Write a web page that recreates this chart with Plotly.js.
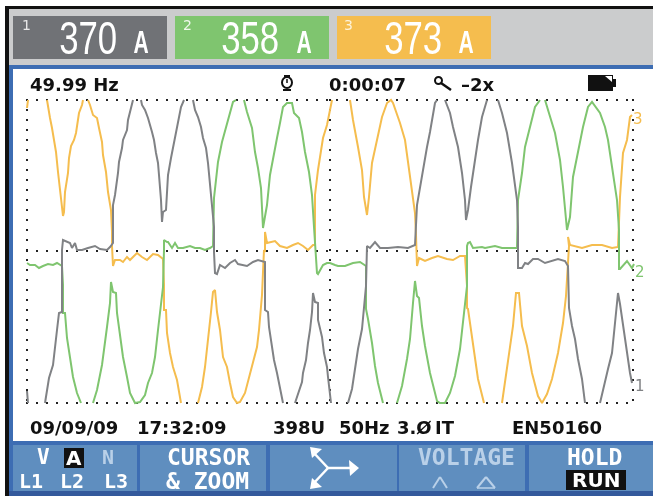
<!DOCTYPE html>
<html><head><meta charset="utf-8">
<script src="https://cdn.plot.ly/plotly-3.0.1.min.js"></script>
<style>html,body{margin:0;padding:0;background:#fff;overflow:hidden}#g{width:653px;height:496px;filter:blur(0.5px)}</style>
</head><body><div id="g"></div>
<script>
// Trace samples in screen counts: sample index and signed level about the centre line.
var tL3=[0,1,null,20,21,23,25,27,29,31,33,35,36,37,38,41,42,44,47,49,51,52,55,56,null,61,63,66,70,72,75,76,79,81,84,85,85,86,88,93,96,100,103,110,115,120,126,131,136,137,137,139,140,143,146,150,153,154,null,171,175,178,180,182,184,186,188,190,193,196,200,203,206,210,213,218,223,226,230,232,235,236,237,238,238,240,243,248,253,260,266,271,276,281,286,288,288,288,291,293,296,300,303,305,null,323,326,331,335,337,340,342,345,350,355,360,364,366,373,378,381,385,388,389,390,392,398,405,411,420,426,433,438,440,440,441,445,448,451,457,null,475,478,483,486,489,492,495,500,505,511,515,520,525,531,536,539,542,541,543,555,565,575,585,591,593,596,600,603,605];
var vL3=[143,151,null,151,143,133,123,111,99,79,59,39,35,39,59,78,93,105,111,118,129,138,146,151,null,151,146,136,133,123,109,96,79,59,41,19,5,-15,-9,-9,-11,-6,-9,-2,-6,-9,-3,-4,-8,-34,-59,-59,-82,-102,-116,-129,-149,-152,null,-152,-136,-116,-99,-82,-61,-41,-39,-61,-79,-106,-116,-132,-146,-152,-151,-142,-122,-109,-96,-79,-44,-21,1,-1,19,8,9,10,5,3,6,8,5,1,6,6,24,56,81,96,113,126,139,151,null,151,131,104,81,54,36,54,88,111,134,148,151,148,128,111,88,61,38,16,-15,-7,-10,-7,-5,-8,-9,-5,-5,-35,-57,-58,-85,-108,-128,-152,null,-152,-132,-98,-75,-42,-42,-75,-95,-122,-145,-152,-143,-128,-102,-72,-45,5,14,6,3,6,6,3,4,54,98,111,134,136];
var tL2=[0,3,8,12,16,21,26,30,35,36,36,38,40,43,46,50,54,null,66,70,75,78,80,83,84,86,89,90,93,96,100,103,108,113,118,121,125,128,131,133,136,137,137,140,141,145,148,151,156,163,168,173,178,183,186,187,190,191,195,200,203,206,209,null,217,220,225,228,231,234,236,238,240,243,246,250,253,256,260,265,267,272,275,278,282,285,287,289,290,291,296,300,303,308,311,318,326,333,339,339,339,341,345,348,351,356,null,370,375,380,383,386,388,390,392,395,398,403,410,413,418,423,428,433,436,438,440,440,441,443,446,455,458,468,475,490,491,495,498,503,508,513,null,518,521,528,533,536,540,543,546,551,556,561,565,573,578,581,586,590,592,592,593,600,605,607];
var vL2=[-12,-14,-14,-17,-15,-13,-14,-12,-15,-34,-62,-62,-87,-106,-126,-142,-152,null,-152,-139,-114,-94,-76,-52,-31,-41,-42,-62,-86,-106,-126,-142,-152,-151,-144,-132,-122,-106,-79,-59,-36,1,11,9,9,3,8,3,3,5,3,3,1,3,5,53,76,89,109,128,139,149,151,null,151,139,123,99,83,63,23,33,46,76,93,113,128,144,148,148,138,133,119,99,79,56,24,-1,-22,-23,-14,-12,-12,-14,-15,-15,-12,-11,-15,-35,-58,-68,-92,-115,-132,-152,null,-152,-135,-108,-88,-52,-30,-45,-47,-75,-95,-122,-150,-152,-152,-142,-125,-98,-72,-55,-35,5,8,9,3,4,3,5,3,3,51,78,104,124,144,151,null,151,141,118,91,64,21,34,74,98,124,144,149,138,124,111,78,51,21,-18,-18,-10,-17,-13];
var tL1=[0,1,null,18,20,22,26,28,30,32,35,35,35,36,40,43,45,48,50,55,61,68,73,80,83,86,86,88,91,92,95,96,100,101,104,106,null,114,115,118,121,125,127,129,131,132,134,135,136,139,140,141,144,146,148,150,152,154,157,null,166,168,171,174,176,179,181,183,185,187,187,188,190,193,198,203,208,211,220,226,231,238,238,241,242,245,247,250,252,254,256,null,268,271,275,276,279,281,283,285,286,288,291,291,295,297,300,301,303,304,null,321,325,328,331,335,337,339,340,343,348,353,361,371,381,388,390,393,396,400,403,408,410,null,418,423,426,431,435,438,439,441,444,448,451,455,460,null,471,475,480,485,490,491,491,495,498,501,506,511,518,525,531,538,541,542,545,548,551,555,558,null,573,576,581,585,588,591,593,596,600,603,605];
var vL1=[-140,-152,null,-152,-141,-127,-114,-99,-79,-62,-61,-34,1,11,9,8,3,8,1,1,3,5,2,1,4,8,46,56,78,89,103,111,121,131,143,151,null,151,146,141,133,119,111,98,88,76,51,29,39,41,59,76,93,103,113,124,136,144,151,null,151,141,134,124,113,103,88,69,49,24,-1,-22,-23,-14,-17,-12,-9,-13,-15,-11,-9,-11,-59,-61,-76,-96,-109,-122,-132,-142,-152,null,-152,-142,-131,-122,-109,-92,-79,-61,-42,-51,-52,-69,-86,-102,-116,-126,-142,-152,null,-152,-138,-118,-98,-78,-58,-35,5,3,9,3,3,4,3,6,46,64,84,104,119,148,151,null,151,138,124,104,78,51,31,41,64,94,111,134,151,null,151,138,118,88,51,24,-17,-17,-12,-13,-8,-8,-12,-10,-8,-10,-15,-57,-75,-88,-108,-128,-152,null,-152,-138,-118,-102,-75,-42,-53,-75,-102,-122,-132];
var xGrid=[0,303,606];
var yGrid=[-152,0,151];
var readings=["370","358","373"];
var unit="A";
var statusTop=["49.99 Hz","0:00:07","–2x"];
var statusBottom=["09/09/09","17:32:09","398U","50Hz","3.Ø","IT","EN50160"];
var softKeys=["V","A","N","L1","L2","L3","CURSOR","& ZOOM","VOLTAGE","HOLD","RUN"];
var traceNames=["L3","L2","L1"];

var W=653,H=496,L=25,R=635,T=98,B=405;
var GRAY="#808285",GREEN="#7fc56f",ORANGE="#f5bd4e",BOX1="#707276",PANEL="#cbcccd",BLUE="#3d6db3",KEY="#5f8ebf";
function px(x){return (x-L)/(R-L);}
function py(y){return (B-y)/(B-T);}
function rect(x0,y0,x1,y1,c){return {type:"rect",xref:"paper",yref:"paper",x0:px(x0),x1:px(x1),y0:py(y0),y1:py(y1),fillcolor:c,line:{width:0},layer:"below"};}
function seg(x0,y0,x1,y1,c,w){return {type:"line",xref:"paper",yref:"paper",x0:px(x0),x1:px(x1),y0:py(y0),y1:py(y1),line:{color:c,width:w},layer:"above"};}
function circ(x0,y0,x1,y1,c,w){return {type:"circle",xref:"paper",yref:"paper",x0:px(x0),x1:px(x1),y0:py(y0),y1:py(y1),fillcolor:"rgba(0,0,0,0)",line:{color:c,width:w},layer:"above"};}
function tri(a,b,c,col){return {type:"path",xref:"paper",yref:"paper",path:"M"+px(a[0])+","+py(a[1])+" L"+px(b[0])+","+py(b[1])+" L"+px(c[0])+","+py(c[1])+" Z",fillcolor:col,line:{width:0},layer:"above"};}
function txt(s,x,y,size,color,fam,anchor,bold){return {text:bold?"<b>"+s+"</b>":s,xref:"paper",yref:"paper",x:px(x),y:py(y),xanchor:anchor||"left",yanchor:"middle",showarrow:false,borderpad:0,font:{size:size,color:color,family:fam}};}
var SANS="DejaVu Sans",MONO="DejaVu Sans Mono",LIB="Liberation Sans";
var KEYDIM="#b9d0e8";

var shapes=[
 rect(9,9,653,65,PANEL),
 rect(5,6,653,9,"#111"),rect(5,6,9,496,"#111"),
 rect(9,65,653,69,BLUE),rect(9,65,13,496,BLUE),
 rect(13,69,652,441,"#ffffff"),
 rect(9,441,653,496,BLUE),rect(9,491,653,496,"#33599c"),
 rect(13,16,167,59,BOX1),rect(175,16,329,59,GREEN),rect(337,16,491,59,ORANGE),
 rect(13,445,137,491,KEY),rect(140,445,266,491,KEY),rect(270,445,397,491,KEY),rect(399,445,525,491,KEY),rect(529,445,653,491,KEY),
 rect(64,448,84,468,"#111"),rect(566,470,626,490,"#111"),
 // stopwatch
 circ(282,77,292,88,"#111",2),seg(284,76,290,76,"#111",2),seg(283,90,291,90,"#111",2),seg(287,79,287,83,"#111",1.5),
 // magnifier
 circ(435,77,442,84,"#111",2),seg(441,83,451,90,"#111",2.5),
 // battery
 rect(588,75,613,91,"#111"),rect(613,79,616,87,"#111"),
 tri([605,76],[612,76],[612,82],"#fff"),
 // phase star key
 seg(328,468,350,468,"#fff",2.5),seg(328,468,313,452,"#fff",2.5),seg(328,468,313,484,"#fff",2.5),
 tri([349,460],[350,476],[359,468],"#fff"),
 tri([310,447],[322,449],[312,458],"#fff"),
 tri([310,489],[322,487],[312,478],"#fff"),
 // voltage arrows
 seg(433,488,440,477,KEYDIM,2),seg(440,477,447,488,KEYDIM,2),
 seg(477,488,486,477,KEYDIM,2),seg(486,477,495,488,KEYDIM,2),seg(477,488,495,488,KEYDIM,1.5)
];
var annotations=[
 txt("1",21,25,14,"#e8e8e8",SANS),txt("2",182,25,14,"#f0f8ec",SANS),txt("3",343,25,14,"#fdf3da",SANS),
 txt(readings[0],87.5,38,47,"#fff",LIB,"center"),txt(readings[1],250,38,47,"#fff",LIB,"center"),txt(readings[2],412.5,38,47,"#fff",LIB,"center"),
 txt(unit,141,43,31,"#fff",LIB,"center",true),txt(unit,303.5,43,31,"#fff",LIB,"center",true),txt(unit,465.5,43,31,"#fff",LIB,"center",true),
 txt(statusTop[0],29,84,18,"#111",SANS,"left",true),txt(statusTop[1],328,84,18,"#111",SANS,"left",true),txt(statusTop[2],460,84,18,"#111",SANS,"left",true),
 txt(statusBottom[0],29,427,18,"#111",SANS,"left",true),txt(statusBottom[1],136,427,18,"#111",SANS,"left",true),
 txt(statusBottom[2],272,427,18,"#111",SANS,"left",true),txt(statusBottom[3],338,427,18,"#111",SANS,"left",true),
 txt(statusBottom[4],396,427,18,"#111",SANS,"left",true),txt(statusBottom[5],434,427,18,"#111",SANS,"left",true),
 txt(statusBottom[6],511,427,18,"#111",SANS,"left",true),
 txt("3",632,119,15,ORANGE,SANS),txt("2",634,272,15,GREEN,SANS),txt("1",634,386,15,GRAY,SANS),
 txt(softKeys[0],43,457,21,"#fff",MONO,"center",true),txt(softKeys[1],74,458,20,"#fff",SANS,"center",true),txt(softKeys[2],108,457,20,KEYDIM,MONO,"center",true),
 txt(softKeys[3],31,481,20,"#fff",MONO,"center",true),txt(softKeys[4],72,481,20,"#fff",MONO,"center",true),txt(softKeys[5],116,481,20,"#fff",MONO,"center",true),
 txt(softKeys[6],208,457,23,"#fff",MONO,"center",true),txt(softKeys[7],207,481,23,"#fff",MONO,"center",true),
 txt(softKeys[8],466,457,23,KEYDIM,MONO,"center",true),
 txt(softKeys[9],594,457,23,"#fff",MONO,"center",true),txt(softKeys[10],596,480,20,"#fff",SANS,"center",true)
];
var data=[
 {x:tL3,y:vL3,name:traceNames[0],line:{color:ORANGE}},
 {x:tL2,y:vL2,name:traceNames[1],line:{color:GREEN}},
 {x:tL1,y:vL1,name:traceNames[2],line:{color:GRAY}}
].map(function(d){d.type="scatter";d.mode="lines";d.line.width=2;d.line.shape="linear";d.connectgaps=false;d.hoverinfo="skip";return d;});
var axisBase={showline:false,zeroline:false,showticklabels:false,ticks:"",showgrid:true,gridcolor:"#222",gridwidth:2,griddash:"0px,1px,2px,7px",tickmode:"array",fixedrange:true};
var layout={width:W,height:H,autosize:false,showlegend:false,paper_bgcolor:"#fff",plot_bgcolor:"rgba(0,0,0,0)",
 margin:{l:L,r:W-R,t:T,b:H-B,pad:0},
 xaxis:Object.assign({},axisBase,{range:[-2,608],tickvals:xGrid}),
 yaxis:Object.assign({},axisBase,{range:[-154,153],tickvals:yGrid}),
 shapes:shapes,annotations:annotations};
Plotly.newPlot("g",data,layout,{displayModeBar:false,staticPlot:true}).then(function(){
 // The readout font is condensed: narrow the big readings and their unit in place.
 document.querySelectorAll(".annotation-text").forEach(function(el){
  var s=el.textContent,f=readings.indexOf(s)>=0?0.74:(s===unit&&parseFloat(getComputedStyle(el).fontSize)>25?0.68:0);
  if(f){var b=el.getBBox(),c=b.x+b.width/2;el.setAttribute("transform","translate("+c+",0) scale("+f+",1) translate("+(-c)+",0)");}
 });
});
</script></body></html>
